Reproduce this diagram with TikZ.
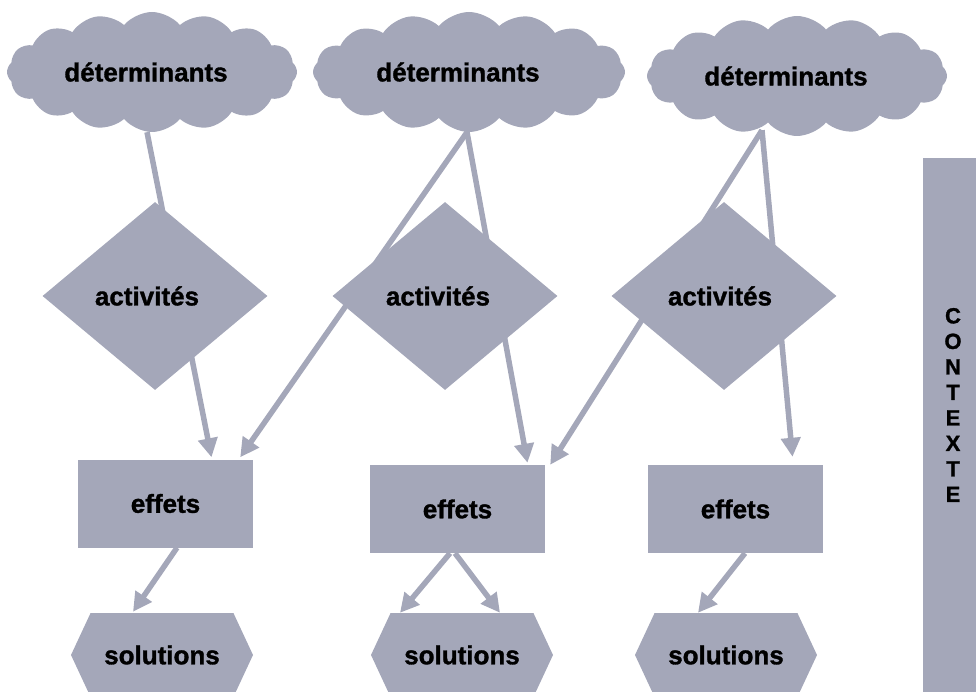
\documentclass[tikz,border=0pt]{standalone}
\usepackage{fontspec}
\setmainfont{Liberation Sans}[BoldFeatures={FakeBold=1.2}]
\usetikzlibrary{shapes.geometric, shapes.symbols, arrows.meta, backgrounds}
\definecolor{boxgray}{HTML}{A4A7B9}
\tikzset{base/.style={fill=boxgray,draw=none,text=black,font=\fontsize{26}{30}\selectfont\bfseries,inner sep=0pt},
         cloudnode/.style={base,cloud,cloud puffs=16,cloud puff arc=100,cloud ignores aspect,minimum width=290pt,minimum height=120pt},
         activity/.style={base,diamond,minimum width=225pt,minimum height=188pt},
         effect/.style={base,rectangle,minimum width=175pt,minimum height=88pt},
         solution/.style={base,signal,signal to=east and west,signal pointer angle=130,minimum width=182pt,minimum height=84pt},
         contextbar/.style={rectangle,fill=boxgray,minimum width=56pt,minimum height=550pt,inner sep=0pt},
         ctxlabel/.style={font=\fontsize{22}{25.5}\selectfont\bfseries,align=center,inner sep=0pt},
         arrow/.style={draw=boxgray,line width=5.5pt,-{Triangle[length=19pt,width=19pt]}}}

\begin{document}
\begin{tikzpicture}[x=1pt,y=-1pt]
    \useasboundingbox (0,0) rectangle (976,692);
    \clip (0,0) rectangle (976,692);
    % Determinants
    \node (det1) at (152,72) [cloudnode]{déterminants\hspace*{12pt}};
    \node (det2) at (469,72) [cloudnode,minimum width=312pt]{déterminants\hspace*{22pt}};
    \node (det3) at (797,76) [cloudnode,minimum width=300pt]{déterminants\hspace*{22pt}};
    % Activities
    \node (act1) at (155,296) [activity]{activités\hspace*{16pt}};
    \node (act2) at (445,296) [activity]{activités\hspace*{14pt}};
    \node (act3) at (724,296) [activity]{activités\hspace*{8pt}};
    % Effects
    \node (eff1) at (165.5,503.5) [effect]{effets};
    \node (eff2) at (457.5,509) [effect]{effets};
    \node (eff3) at (735.5,509) [effect]{effets};
    % Solutions
    \node (sol1) at (162,655) [solution]{solutions};
    \node (sol2) at (462,655) [solution]{solutions};
    \node (sol3) at (726,655) [solution]{solutions};
    % Context
    \node (ctx) at (951,433) [contextbar]{};
    \node (ctxtext) at (953,405) [ctxlabel]{C\\O\\N\\T\\E\\X\\T\\E};
    % Links behind the activities
    \begin{scope}[on background layer]
      \draw[arrow] ([xshift=-5pt]det1.south) -- ([xshift=46pt,yshift=2pt]eff1.north);
      \draw[arrow] ([xshift=-2pt]det2.south) -- ([xshift=-13pt,yshift=2pt]eff1.north east);
      \draw[arrow] ([xshift=-2pt]det2.south) -- ([xshift=70pt,yshift=2pt]eff2.north);
      \draw[arrow] ([xshift=-35pt,yshift=6pt]det3.south) -- ([xshift=5pt]eff2.north east);
      \draw[arrow] ([xshift=-35pt,yshift=6pt]det3.south) -- ([xshift=57pt,yshift=8pt]eff3.north);
    \end{scope}
    % Effects to solutions
    \draw[arrow] ([xshift=11.5pt]eff1.south) -- ([xshift=-29pt,yshift=1pt]sol1.north);
    \draw[arrow] ([xshift=-7.5pt]eff2.south) -- ([xshift=-62pt]sol2.north);
    \draw[arrow] ([xshift=-2.5pt]eff2.south) -- ([xshift=38pt]sol2.north);
    \draw[arrow] ([xshift=9.5pt]eff3.south) -- ([xshift=-28pt]sol3.north);
\end{tikzpicture}
\end{document}
